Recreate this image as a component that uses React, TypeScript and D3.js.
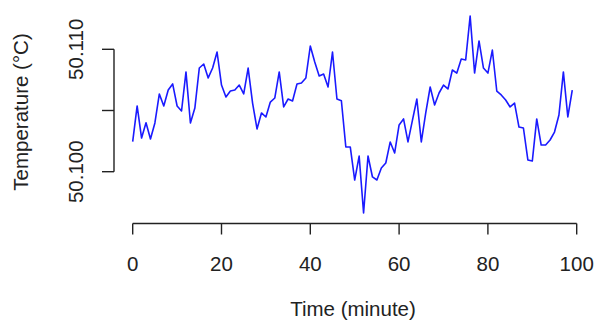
import React, { useEffect, useRef } from 'react';
import * as d3 from 'd3';

// temperature readings, one per minute starting at minute 0
const temperature = [
  50.10245, 50.10537, 50.10275, 50.1040, 50.10267, 50.10398, 50.10635, 50.10537, 50.10667, 50.10717,
  50.10537, 50.10496, 50.10815, 50.10398, 50.1052, 50.10847, 50.1088, 50.10766, 50.10847, 50.10978,
  50.10708, 50.1061, 50.10659, 50.10667, 50.10708, 50.10635, 50.10847, 50.10561, 50.10349, 50.1048,
  50.10447, 50.10569, 50.10602, 50.10815, 50.10529, 50.10594, 50.10578, 50.10717, 50.10725, 50.10766,
  50.11027, 50.10896, 50.10782, 50.10798, 50.10692, 50.10978, 50.10594, 50.1058, 50.10202, 50.10202,
  50.09932, 50.10128, 50.09663, 50.10128, 50.09957, 50.09932, 50.1003, 50.10071, 50.10243, 50.10153,
  50.10382, 50.10431, 50.10243, 50.1042, 50.10594, 50.10243, 50.1048, 50.10692, 50.10545, 50.10643,
  50.10708, 50.10676, 50.10831, 50.10806, 50.10921, 50.10913, 50.11272, 50.10806, 50.11068, 50.10847,
  50.10806, 50.10994, 50.10659, 50.10627, 50.10586, 50.10529, 50.10561, 50.10365, 50.10357, 50.10096,
  50.10087, 50.10431, 50.10218, 50.10218, 50.10259, 50.10324, 50.10463, 50.10815, 50.10447, 50.10667,
];

const xTicks = [0, 20, 40, 60, 80, 100];
const yTicks = [50.1, 50.105, 50.11];
const yTickLabels = ['50.100', '', '50.110'];

const width = 597;
const height = 322;
const font = '"Liberation Sans", Arial, sans-serif';
const fontSize = 20.5;

function App() {
  const svgRef = useRef<SVGSVGElement>(null);

  useEffect(() => {
    const svg = d3.select(svgRef.current);
    svg.selectAll('*').remove();

    const x = d3.scaleLinear().domain([0, 100]).range([132.7, 576.7]);
    const y = d3.scaleLinear().domain([50.1, 50.11]).range([171.7, 49.3]);
    const axisY = 223.5;
    const axisX = 114;
    const ink = '#222';

    // the series
    const line = d3.line<number>()
      .x((d, i) => x(i))
      .y(d => y(d));

    svg.append('path')
      .datum(temperature)
      .attr('d', line)
      .attr('fill', 'none')
      .attr('stroke', '#1a1aff')
      .attr('stroke-width', 1.6)
      .attr('stroke-linejoin', 'round');

    // x axis, R style
    const gx = svg.append('g');
    gx.append('line')
      .attr('x1', x(0)).attr('x2', x(100))
      .attr('y1', axisY).attr('y2', axisY)
      .attr('stroke', ink).attr('stroke-width', 1.4);
    gx.selectAll('.tick')
      .data(xTicks)
      .enter()
      .append('line')
      .attr('x1', d => x(d)).attr('x2', d => x(d))
      .attr('y1', axisY).attr('y2', axisY + 11)
      .attr('stroke', ink).attr('stroke-width', 1.4);
    gx.selectAll('text')
      .data(xTicks)
      .enter()
      .append('text')
      .attr('x', d => x(d))
      .attr('y', 270.5)
      .attr('text-anchor', 'middle')
      .attr('font-family', font)
      .attr('font-size', fontSize)
      .attr('fill', ink)
      .text(d => d);

    // y axis
    const gy = svg.append('g');
    gy.append('line')
      .attr('x1', axisX).attr('x2', axisX)
      .attr('y1', y(yTicks[0])).attr('y2', y(yTicks[yTicks.length - 1]))
      .attr('stroke', ink).attr('stroke-width', 1.4);
    gy.selectAll('.tick')
      .data(yTicks)
      .enter()
      .append('line')
      .attr('x1', axisX - 12).attr('x2', axisX)
      .attr('y1', d => y(d)).attr('y2', d => y(d))
      .attr('stroke', ink).attr('stroke-width', 1.4);
    gy.selectAll('text')
      .data(yTicks)
      .enter()
      .append('text')
      .attr('transform', d => `translate(82.5, ${y(d)}) rotate(-90)`)
      .attr('text-anchor', 'middle')
      .attr('font-family', font)
      .attr('font-size', fontSize)
      .attr('fill', ink)
      .text((d, i) => yTickLabels[i]);

    // axis titles
    svg.append('text')
      .attr('x', 353)
      .attr('y', 316)
      .attr('text-anchor', 'middle')
      .attr('font-family', font)
      .attr('font-size', fontSize)
      .attr('fill', ink)
      .text('Time (minute)');

    svg.append('text')
      .attr('transform', 'translate(27.5, 112) rotate(-90)')
      .attr('text-anchor', 'middle')
      .attr('font-family', font)
      .attr('font-size', fontSize)
      .attr('fill', ink)
      .text('Temperature (°C)');
  }, []);

  return (
    <div style={{ position: 'absolute', left: 0, top: 0 }}>
      <svg ref={svgRef} width={width} height={height} style={{ display: 'block', background: '#fff' }}></svg>
    </div>
  );
}

export default App;
